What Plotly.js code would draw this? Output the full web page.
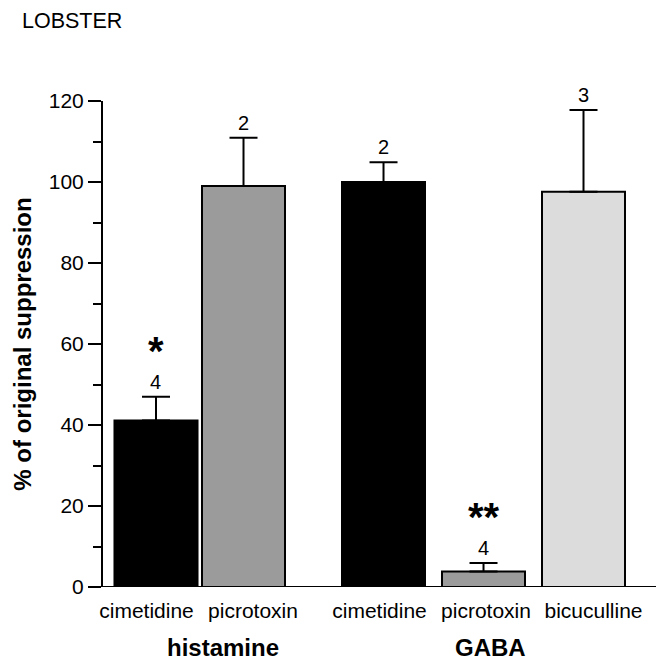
<!DOCTYPE html>
<html>
<head>
<meta charset="utf-8">
<script src="https://cdn.plot.ly/plotly-3.0.1.min.js"></script>
<style>html,body{margin:0;padding:0;background:#fff;}#chart{width:657px;height:662px;}</style>
</head>
<body>
<div id="chart"></div>
<script>
// ---- data ----
const histCats  = ['cimetidine', 'picrotoxin'];
const histMeans = [41.1, 99.0];
const histErr   = [5.9, 11.9];
const histN     = ['4', '2'];
const histSig   = ['*', ''];

const gabaCats  = ['cimetidine', 'picrotoxin', 'bicuculline'];
const gabaMeans = [100.0, 3.8, 97.6];
const gabaErr   = [4.9, 2.1, 20.2];
const gabaN     = ['2', '4', '3'];
const gabaSig   = ['', '**', ''];

const groupNames = ['histamine', 'GABA'];
const yTicks = [0, 20, 40, 60, 80, 100, 120];

// ---- styles / layout helpers ----
const FONT = 'Liberation Sans, Arial, Helvetica, sans-serif';
const BLACK = '#000000', MID = '#9b9b9b', LIGHT = '#dcdcdc';
const histColors = [BLACK, MID];
const gabaColors = [BLACK, MID, LIGHT];
// horizontal offsets of tick labels (pixels), as set in the reference, and px per category
const histLabelShift = [-9.5, 9.5], histPxPerCat = 87.5;
const gabaLabelShift = [-4, 2.5, 10], gabaPxPerCat = 100;
function tickPos(cats, shift, ppc) { return cats.map((c, i) => i + shift[i] / ppc); }

function barTrace(cats, means, err, colors, xa, w) {
  return {
    type: 'bar', x: cats, y: means, xaxis: xa, yaxis: 'y',
    width: cats.map(() => w),
    marker: {color: colors, line: {color: BLACK, width: 2}},
    error_y: {type: 'data', symmetric: false, array: err,
              arrayminus: err.map(() => 0), color: BLACK, thickness: 2, width: 14},
    hoverinfo: 'skip', showlegend: false
  };
}

const traces = [
  barTrace(histCats, histMeans, histErr, histColors, 'x', 0.949),
  barTrace(gabaCats, gabaMeans, gabaErr, gabaColors, 'x2', 0.83)
];

const annotations = [];
function addLabels(cats, means, err, ns, sigs, xref) {
  cats.forEach((c, i) => {
    const top = means[i] + err[i];
    annotations.push({x: c, y: top, xref: xref, yref: 'y', text: ns[i],
      showarrow: false, yanchor: 'bottom', yshift: 2,
      font: {family: FONT, size: 20, color: BLACK}});
    if (sigs[i]) {
      annotations.push({x: c, y: top, xref: xref, yref: 'y', text: '<b>' + sigs[i] + '</b>',
        showarrow: false, yanchor: 'middle', yshift: 46,
        font: {family: FONT, size: 40, color: BLACK}});
    }
  });
}
addLabels(histCats, histMeans, histErr, histN, histSig, 'x');
addLabels(gabaCats, gabaMeans, gabaErr, gabaN, gabaSig, 'x2');

const groupX = [0.2184, 0.702];
groupNames.forEach((g, i) => {
  annotations.push({x: groupX[i], y: -0.1255, xref: 'paper', yref: 'paper',
    text: '<b>' + g + '</b>', showarrow: false, xanchor: 'center', yanchor: 'middle',
    font: {family: FONT, size: 24, color: BLACK}});
});

const xCommon = {
  type: 'category', showline: false, showgrid: false, zeroline: false,
  ticks: '', tickangle: 0, ticklabelstandoff: 9,
  tickfont: {family: FONT, size: 21, color: BLACK},
  anchor: 'y', fixedrange: true
};

const layout = {
  width: 657, height: 662,
  margin: {l: 102, r: 1, t: 101, b: 75, pad: 0},
  paper_bgcolor: '#ffffff', plot_bgcolor: '#ffffff',
  font: {family: FONT, color: BLACK},
  title: {text: 'LOBSTER', x: 22 / 657, xanchor: 'left', xref: 'container',
          y: 1 - 20 / 662, yanchor: 'middle', yref: 'container',
          font: {family: FONT, size: 21.5, color: BLACK}},
  xaxis: Object.assign({}, xCommon, {domain: [0.0185, 0.3344], range: [-0.5, 1.5],
          categoryorder: 'array', categoryarray: histCats,
          tickmode: 'array', tickvals: tickPos(histCats, histLabelShift, histPxPerCat), ticktext: histCats}),
  xaxis2: Object.assign({}, xCommon, {domain: [0.4179, 0.9594], range: [-0.5, 2.5],
          categoryorder: 'array', categoryarray: gabaCats,
          tickmode: 'array', tickvals: tickPos(gabaCats, gabaLabelShift, gabaPxPerCat), ticktext: gabaCats}),
  yaxis: {
    range: [0, 120], tickvals: yTicks, ticktext: yTicks.map(String),
    ticks: 'outside', ticklen: 13, tickwidth: 2, tickcolor: BLACK,
    minor: {dtick: 10, ticks: 'outside', ticklen: 8, tickwidth: 2, tickcolor: BLACK, showgrid: false},
    showline: true, linewidth: 2, linecolor: BLACK, showgrid: false, zeroline: false,
    anchor: 'free', position: 0,
    tickfont: {family: FONT, size: 21, color: BLACK},
    title: {text: '<b>% of original suppression</b>', standoff: 9,
            font: {family: FONT, size: 24, color: BLACK}},
    fixedrange: true
  },
  shapes: [{type: 'line', xref: 'paper', yref: 'y', x0: 0, x1: 1, y0: 0, y1: 0,
            line: {color: BLACK, width: 2}, layer: 'above'}],
  annotations: annotations
};

Plotly.newPlot('chart', traces, layout, {staticPlot: true, displayModeBar: false});
</script>
</body>
</html>
